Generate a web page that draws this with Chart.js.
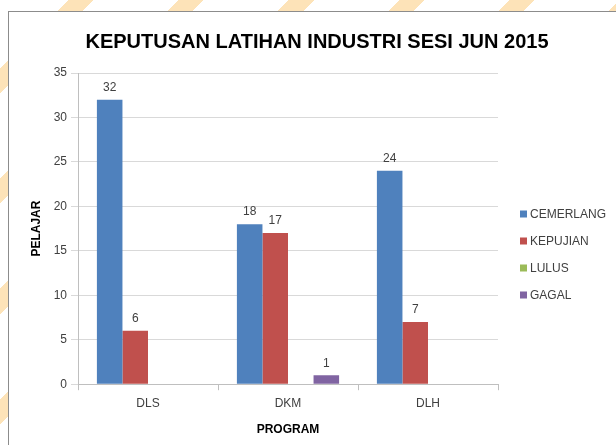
<!DOCTYPE html>
<html>
<head>
<meta charset="utf-8">
<script src="https://cdn.jsdelivr.net/npm/chart.js@4.4.1/dist/chart.umd.min.js"></script>
<style>
  html, body { margin: 0; padding: 0; }
  body {
    width: 616px; height: 445px; overflow: hidden; position: relative;
    background: repeating-linear-gradient(-45deg, #ffffff 0px, #ffffff 60px, #fde3b8 60px, #fde3b8 78px);
  }
  #box {
    position: absolute; left: 8px; top: 11px; width: 620px; height: 450px;
    background: #fff; border-top: 1px solid #8c8c8c; border-left: 1px solid #8c8c8c;
  }
  canvas { display: block; }
</style>
</head>
<body>
<div id="box"><canvas id="graph" width="608" height="434"></canvas></div>
<script>
const chartTitle = 'KEPUTUSAN LATIHAN INDUSTRI SESI JUN 2015';
const categories = ['DLS', 'DKM', 'DLH'];
const seriesNames = ['CEMERLANG', 'KEPUJIAN', 'LULUS', 'GAGAL'];
const cemerlang = [32, 18, 24];
const kepujian = [6, 17, 7];
const lulus = [null, null, null];
const gagal = [null, 1, null];
const colors = ['#4F81BD', '#C0504D', '#9BBB59', '#8064A2'];

const FONT = "'Liberation Sans', Arial, sans-serif";

// draws the value above each bar
const valueLabels = {
  id: 'valueLabels',
  afterDatasetsDraw(chart) {
    const ctx = chart.ctx;
    ctx.save();
    ctx.font = '12px ' + FONT;
    ctx.fillStyle = '#404040';
    ctx.textAlign = 'center';
    ctx.textBaseline = 'bottom';
    chart.data.datasets.forEach((ds, i) => {
      const meta = chart.getDatasetMeta(i);
      meta.data.forEach((bar, j) => {
        const v = ds.data[j];
        if (v === null || v === undefined) return;
        ctx.fillText(String(v), bar.x, bar.y - 6);
      });
    });
    ctx.restore();
  }
};

// title centred on the whole chart box, legend on the right like excel
const extras = {
  id: 'extras',
  afterDraw(chart) {
    const ctx = chart.ctx;
    ctx.save();
    ctx.font = 'bold 20px ' + FONT;
    ctx.fillStyle = '#000';
    ctx.textAlign = 'center';
    ctx.textBaseline = 'middle';
    ctx.fillText(chartTitle, 308, 30);

    const x = chart.chartArea.right + 22;
    const y0 = 202;
    ctx.font = '12px ' + FONT;
    ctx.textAlign = 'left';
    chart.data.datasets.forEach((ds, i) => {
      const y = y0 + i * 27;
      ctx.fillStyle = ds.backgroundColor;
      ctx.fillRect(x, y - 3.5, 7, 7);
      ctx.fillStyle = '#404040';
      ctx.fillText(ds.label, x + 10, y + 0.5);
    });
    ctx.restore();
  }
};

const allSeries = [cemerlang, kepujian, lulus, gagal];

const data = {
  labels: categories,
  datasets: seriesNames.map((name, i) => ({
    label: name,
    data: allSeries[i],
    backgroundColor: colors[i],
    borderWidth: 0,
    categoryPercentage: 0.73,
    barPercentage: 1.0
  }))
};

const config = {
  type: 'bar',
  data: data,
  plugins: [valueLabels, extras],
  options: {
    responsive: false,
    animation: false,
    layout: { padding: { left: 16, top: 61, right: 119, bottom: 5 } },
    plugins: {
      title: { display: false },
      legend: { display: false },
      tooltip: { enabled: false }
    },
    scales: {
      x: {
        grid: { drawOnChartArea: false, offset: true, tickLength: 6, color: '#bfbfbf' },
        border: { color: '#bfbfbf' },
        ticks: { color: '#404040', font: { family: FONT, size: 12 }, padding: 6 },
        title: {
          display: true, text: 'PROGRAM', color: '#000',
          font: { family: FONT, size: 12, weight: 'bold' }, padding: { top: 6 }
        }
      },
      y: {
        min: 0, max: 35,
        afterFit(scale) { scale.width = 53; },
        ticks: { stepSize: 5, color: '#404040', font: { family: FONT, size: 12 }, padding: 4 },
        grid: { color: '#d9d9d9', tickLength: 7 },
        border: { color: '#bfbfbf' },
        title: {
          display: true, text: 'PELAJAR', color: '#000',
          font: { family: FONT, size: 12, weight: 'bold' }, padding: { bottom: 8 }
        }
      }
    }
  }
};

const chart = new Chart('graph', config);
</script>
</body>
</html>
